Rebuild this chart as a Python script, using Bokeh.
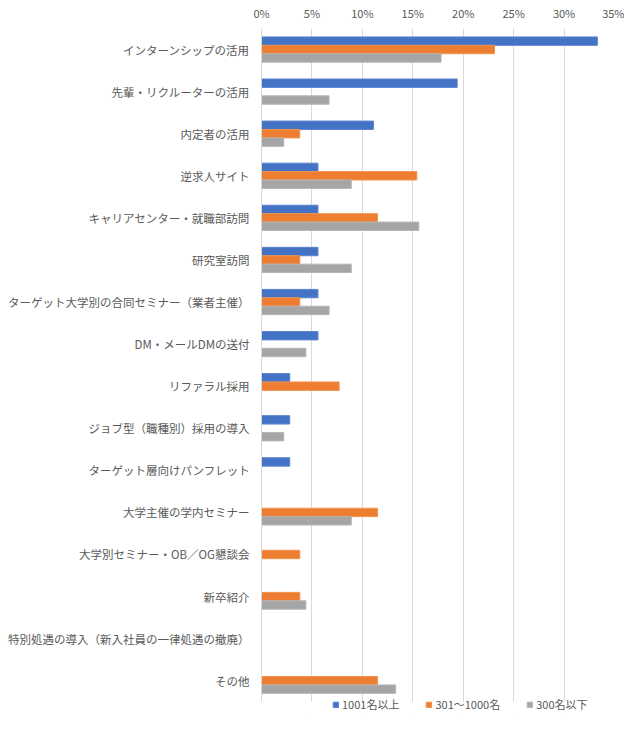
from bokeh.plotting import figure
from bokeh.models import (ColumnDataSource, Range1d, Legend, LegendItem, NumeralTickFormatter,
                          FixedTicker, BoxAnnotation)
from bokeh.embed import file_html
from bokeh.resources import INLINE

categories = [
    "インターンシップの活用",
    "先輩・リクルーターの活用",
    "内定者の活用",
    "逆求人サイト",
    "キャリアセンター・就職部訪問",
    "研究室訪問",
    "ターゲット大学別の合同セミナー（業者主催）",
    "DM・メールDMの送付",
    "リファラル採用",
    "ジョブ型（職種別）採用の導入",
    "ターゲット層向けパンフレット",
    "大学主催の学内セミナー",
    "大学別セミナー・OB／OG懇談会",
    "新卒紹介",
    "特別処遇の導入（新入社員の一律処遇の撤廃）",
    "その他",
]
large = [0.333, 0.194, 0.111, 0.056, 0.056, 0.056, 0.056, 0.056, 0.028, 0.028, 0.028, 0, 0, 0, 0, 0]
mid = [0.231, 0, 0.038, 0.154, 0.115, 0.038, 0.038, 0, 0.077, 0, 0, 0.115, 0.038, 0.038, 0, 0.115]
small = [0.178, 0.067, 0.022, 0.089, 0.156, 0.089, 0.067, 0.044, 0, 0.022, 0, 0.089, 0, 0.044, 0, 0.133]
series_names = ["1001名以上", "301～1000名", "300名以下"]
x_ticks = [0, 0.05, 0.10, 0.15, 0.20, 0.25, 0.30, 0.35]

colors = ["#4472C4", "#ED7D31", "#A5A5A5"]
edges = ["#5B85D0", "#F2944F", "#B5B5B5"]

n = len(categories)
pos = [n - 1 - i for i in range(n)]  # first category at the top
series = dict(large=large, mid=mid, small=small)

FONT = "Noto Sans CJK JP"
EXTRA = 0.35  # room under the last category for the legend
p = figure(width=624, height=729, output_backend="svg", toolbar_location=None,
           y_range=Range1d(-0.5 - EXTRA, n - 0.5),
           x_range=(0, 0.35), x_axis_location="above",
           min_border_left=261, min_border_right=10, min_border_top=28, min_border_bottom=13)
p.outline_line_color = None

renderers = []
for key, off, c, e in zip(["large", "mid", "small"], [0.2, 0.0, -0.2], colors, edges):
    s = ColumnDataSource(dict(y=[v + off for v in pos], right=series[key], cat=categories))
    r = p.hbar(y="y", right="right", left=0, height=0.2, source=s,
               fill_color=c, line_color=e, line_width=1)
    renderers.append(r)

p.xaxis.ticker = FixedTicker(ticks=x_ticks)
p.xaxis.formatter = NumeralTickFormatter(format="0%")
p.xaxis.axis_line_color = None
p.xaxis.major_tick_line_color = None
p.xaxis.major_tick_out = 0
p.xaxis.major_tick_in = 0
p.xaxis.minor_tick_line_color = None
p.xaxis.major_label_text_font = FONT
p.xaxis.major_label_text_font_size = "11px"
p.xaxis.major_label_text_color = "#595959"
p.xaxis.major_label_standoff = 8

p.yaxis.ticker = FixedTicker(ticks=pos)
p.yaxis.major_label_overrides = {pv: c for pv, c in zip(pos, categories)}
p.yaxis.bounds = (-0.5, n - 0.5)
p.yaxis.axis_line_color = "#D9D9D9"
p.yaxis.major_tick_line_color = None
p.yaxis.major_tick_out = 0
p.yaxis.major_tick_in = 0
p.yaxis.minor_tick_line_color = None
p.yaxis.major_label_text_font = FONT
p.yaxis.major_label_text_font_size = "11.5px"
p.yaxis.major_label_text_color = "#595959"
p.yaxis.major_label_standoff = 12

p.xgrid.grid_line_color = "#D9D9D9"
p.ygrid.grid_line_color = None

# blank strip under the last category (hides grid lines behind the legend)
p.add_layout(BoxAnnotation(top=-0.5, fill_color="white", fill_alpha=1, line_color=None))

legend = Legend(items=[LegendItem(label=nm, renderers=[r]) for nm, r in zip(series_names, renderers)],
                orientation="horizontal", location=(71, 4),
                glyph_width=7, glyph_height=7, label_height=12, label_text_font=FONT,
                label_text_font_size="11px", label_text_color="#595959",
                spacing=26, padding=0, margin=0, border_line_color=None,
                background_fill_alpha=0, label_standoff=3)
p.add_layout(legend, "center")

open("out.html", "w").write(file_html(p, INLINE))
